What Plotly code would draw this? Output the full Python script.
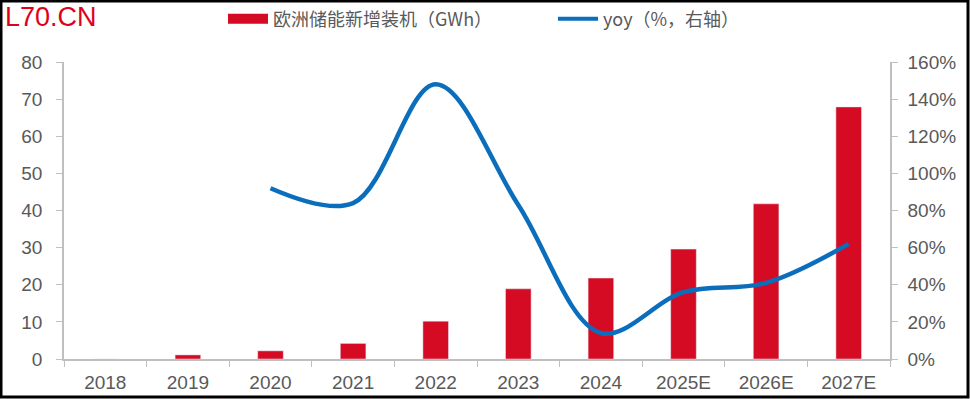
import plotly.graph_objects as go

categories = ["2018", "2019", "2020", "2021", "2022", "2023", "2024", "2025E", "2026E", "2027E"]
installed_gwh = [0, 1.1, 2.2, 4.2, 10.2, 18.9, 21.8, 29.6, 41.8, 67.9]
yoy = [None, None, 0.92, 0.84, 1.48, 0.83, 0.14, 0.36, 0.41, 0.62]

bar_name = "欧洲储能新增装机（GWh）"
line_name = "yoy（%，右轴）"

RED = "#D50B23"
BLUE = "#0A6EBD"
GREY_TXT = "#595959"
AXIS = "#BFBFBF"

W, H = 970, 399
ml, mr, mt, mb = 64, 80, 62, 40
pw, ph = W - ml - mr, H - mt - mb

fig = go.Figure()
fig.add_trace(go.Bar(x=categories, y=installed_gwh, marker_color=RED, width=0.31,
                     showlegend=False, yaxis="y"))
fig.add_trace(go.Scatter(x=categories, y=yoy, mode="lines", yaxis="y2",
                         line=dict(color=BLUE, width=4.5, shape="spline", smoothing=1.0),
                         showlegend=False, connectgaps=False))
# legend entries
fig.add_trace(go.Scatter(x=[None], y=[None], mode="lines", name=bar_name,
                         line=dict(color=RED, width=10)))
fig.add_trace(go.Scatter(x=[None], y=[None], mode="lines", name=line_name, yaxis="y2",
                         line=dict(color=BLUE, width=4)))

fig.update_layout(
    width=W, height=H,
    margin=dict(l=ml, r=mr, t=mt, b=mb, autoexpand=False),
    plot_bgcolor="white", paper_bgcolor="white",
    font=dict(family="Liberation Sans, Arial, sans-serif", size=18, color=GREY_TXT),
    xaxis=dict(type="category", showline=True, linecolor=AXIS, linewidth=1.5,
               ticks="outside", tickson="boundaries", ticklen=6, tickcolor=AXIS,
               showgrid=False, ticklabelstandoff=5, tickfont=dict(size=19, color=GREY_TXT)),
    yaxis=dict(range=[0, 80], dtick=10, showline=True, linecolor=AXIS, linewidth=1.5,
               ticks="outside", ticklen=6, tickcolor=AXIS, showgrid=False, zeroline=False,
               ticklabelstandoff=10, tickfont=dict(size=19, color=GREY_TXT)),
    yaxis2=dict(range=[0, 1.6], dtick=0.2, tickformat=".0%", overlaying="y", side="right",
                showline=True, linecolor=AXIS, linewidth=1.5, ticks="outside", ticklen=6,
                tickcolor=AXIS, showgrid=False, zeroline=False,
                ticklabelstandoff=6, tickfont=dict(size=19, color=GREY_TXT)),
    legend=dict(orientation="h", x=(223 - ml) / pw, xanchor="left",
                y=(H - mb - 19) / ph, yanchor="middle",
                font=dict(family="Noto Sans CJK SC", size=18, color=GREY_TXT),
                itemwidth=40, entrywidth=275, bgcolor="rgba(0,0,0,0)"),
    bargap=0.69,
)

# outer frame
fig.add_shape(type="rect", xref="paper", yref="paper",
              x0=(1 - ml) / pw, x1=(W - 2 - ml) / pw,
              y0=(H - mb - (H - 2)) / ph, y1=(H - mb - 1) / ph,
              line=dict(color="black", width=3), fillcolor="rgba(0,0,0,0)", layer="above")

# watermark
fig.add_annotation(text="L70.CN", xref="paper", yref="paper",
                   x=(3 - ml) / pw, y=(H - mb - 17) / ph, xanchor="left", yanchor="middle",
                   showarrow=False, font=dict(family="Liberation Sans", size=27, color="#E0001B"))

fig.write_html("out.html", config={"displayModeBar": False},
               post_script="document.body.style.margin='0';document.body.style.overflow='hidden';")
